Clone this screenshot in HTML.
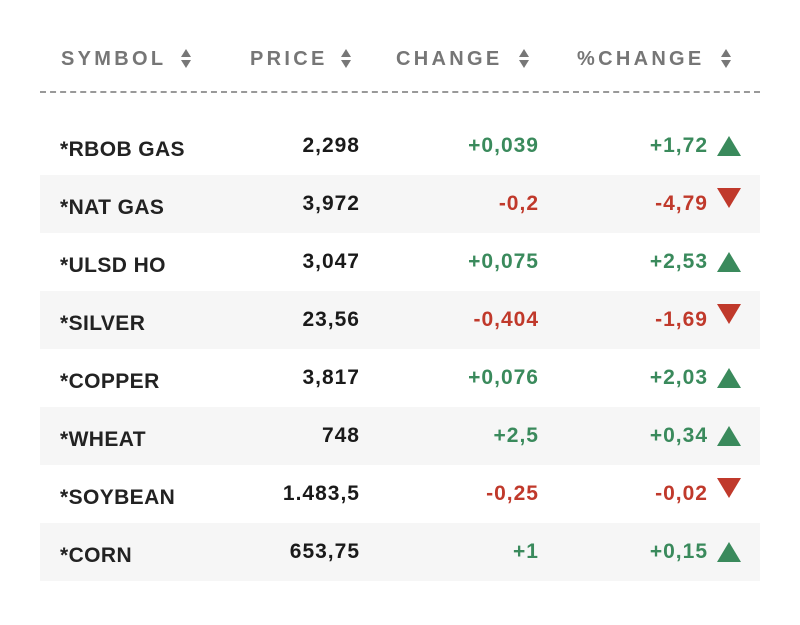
<!DOCTYPE html>
<html><head><meta charset="utf-8"><style>
*{margin:0;padding:0;box-sizing:border-box}
body{width:800px;height:625px;background:#fff;font-family:"Liberation Sans",Arial,sans-serif;position:relative;overflow:hidden}
.h{position:absolute;top:47px;font-size:20px;font-weight:bold;color:#767676;letter-spacing:3.3px;line-height:24px}
.s{position:absolute;top:48px;width:10px;height:22px}
.s:before{content:"";position:absolute;left:0;top:1px;border-left:5px solid transparent;border-right:5px solid transparent;border-bottom:8px solid #777}
.s:after{content:"";position:absolute;left:0;top:12px;border-left:5px solid transparent;border-right:5px solid transparent;border-top:8px solid #777}
.dash{position:absolute;left:40px;top:91px;width:720px;border-top:2px dashed #999}
.row{position:absolute;left:40px;width:720px;height:58px}
.sh{background:#f6f6f6}
.t{position:absolute;font-size:21px;font-weight:bold;line-height:24px}
.sym{left:20px;top:21px;color:#222;letter-spacing:0.4px}
.pr{right:400px;top:17px;color:#1a1a1a;text-align:right;letter-spacing:1px}
.ch{right:221px;top:17px;text-align:right;letter-spacing:1px}
.pc{right:52px;top:17px;text-align:right;letter-spacing:1px}
.g{color:#3a8a5c}.r{color:#c0392b}
.up{position:absolute;left:677px;top:19px;border-left:12px solid transparent;border-right:12px solid transparent;border-bottom:20px solid #3a8a5c}
.dn{position:absolute;left:677px;top:13px;border-left:12px solid transparent;border-right:12px solid transparent;border-top:20px solid #c0392b}
</style></head><body>
<div class="h" style="left:61px">SYMBOL</div><div class="s" style="left:181px"></div>
<div class="h" style="left:250px">PRICE</div><div class="s" style="left:341px"></div>
<div class="h" style="left:396px">CHANGE</div><div class="s" style="left:519px"></div>
<div class="h" style="left:577px">%CHANGE</div><div class="s" style="left:721px"></div>
<div class="dash"></div>

<div class="row" style="top:117px"><div class="t sym">*RBOB GAS</div><div class="t pr">2,298</div><div class="t ch g">+0,039</div><div class="t pc g">+1,72</div><div class="up"></div></div>
<div class="row sh" style="top:175px"><div class="t sym">*NAT GAS</div><div class="t pr">3,972</div><div class="t ch r">-0,2</div><div class="t pc r">-4,79</div><div class="dn"></div></div>
<div class="row" style="top:233px"><div class="t sym">*ULSD HO</div><div class="t pr">3,047</div><div class="t ch g">+0,075</div><div class="t pc g">+2,53</div><div class="up"></div></div>
<div class="row sh" style="top:291px"><div class="t sym">*SILVER</div><div class="t pr">23,56</div><div class="t ch r">-0,404</div><div class="t pc r">-1,69</div><div class="dn"></div></div>
<div class="row" style="top:349px"><div class="t sym">*COPPER</div><div class="t pr">3,817</div><div class="t ch g">+0,076</div><div class="t pc g">+2,03</div><div class="up"></div></div>
<div class="row sh" style="top:407px"><div class="t sym">*WHEAT</div><div class="t pr">748</div><div class="t ch g">+2,5</div><div class="t pc g">+0,34</div><div class="up"></div></div>
<div class="row" style="top:465px"><div class="t sym">*SOYBEAN</div><div class="t pr">1.483,5</div><div class="t ch r">-0,25</div><div class="t pc r">-0,02</div><div class="dn"></div></div>
<div class="row sh" style="top:523px"><div class="t sym">*CORN</div><div class="t pr">653,75</div><div class="t ch g">+1</div><div class="t pc g">+0,15</div><div class="up"></div></div>
</body></html>
